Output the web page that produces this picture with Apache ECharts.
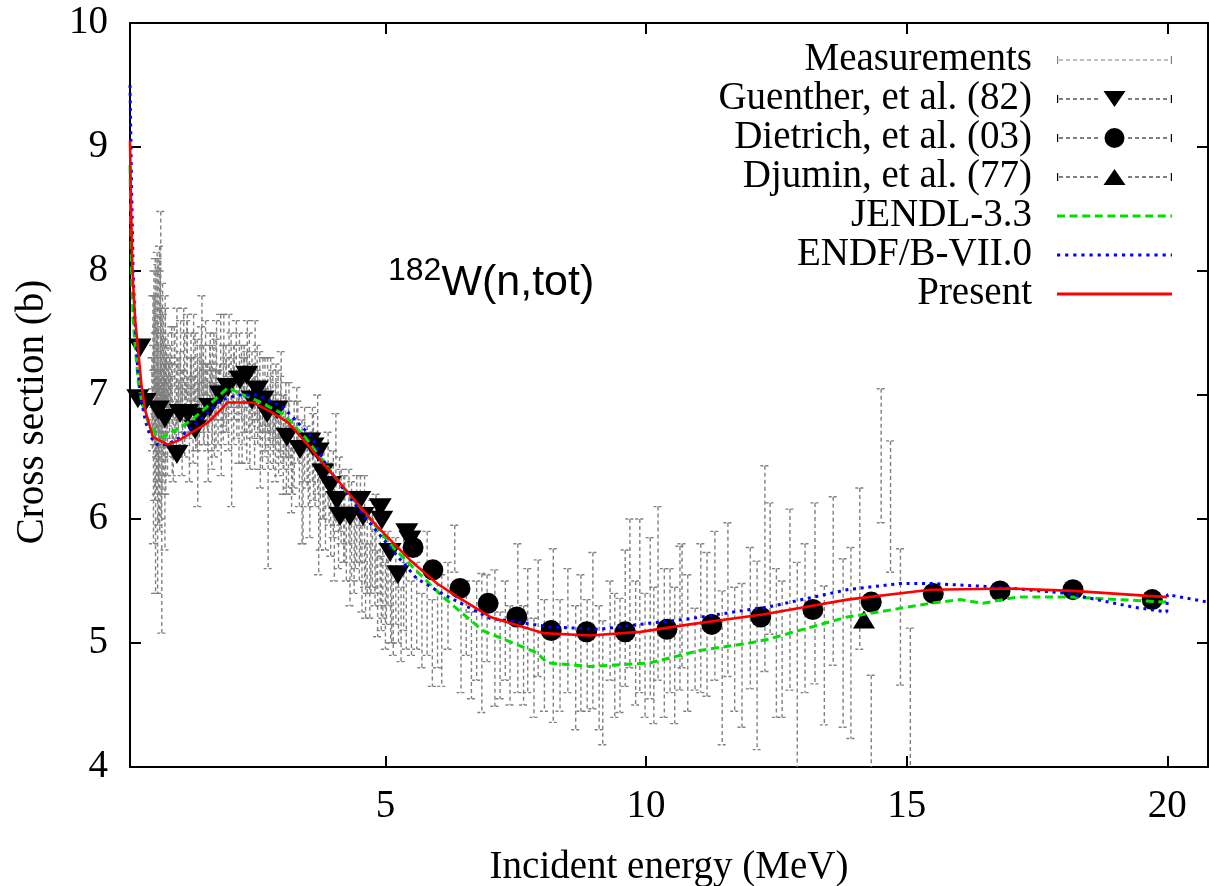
<!DOCTYPE html>
<html><head><meta charset="utf-8">
<script src="https://cdn.jsdelivr.net/npm/echarts@6/dist/echarts.min.js"></script>
<style>html,body{margin:0;padding:0;background:#fff}#c{width:1209px;height:886px}</style>
</head><body><div id="c"></div><script>
// ---------- axis ticks ----------
const xTicks = [5, 10, 15, 20];
const yTicks = [4, 5, 6, 7, 8, 9, 10];

// ---------- Measurements (energy, value, half error) ----------
const measE = [
 0.52,0.54,0.55,0.56,0.57,0.58,0.59,0.60,0.61,0.62,0.62,0.63,0.64,0.65,0.66,0.67,0.68,0.69,0.70,0.71,0.72,0.73,0.74,0.75,0.76,0.77,0.78,0.79,0.80,0.82,0.84,
 0.53,0.555,0.565,0.575,0.585,0.595,0.605,0.615,0.625,0.635,0.645,0.655,0.665,0.675,0.685,0.695,0.705,0.715,0.725,0.735,0.745,0.755,0.765,0.775,0.785,0.795,0.81,0.83,
 0.86,0.90,0.93,0.96,1.00,1.03,1.06,1.10,1.13,1.16,1.20,1.24,1.28,1.32,1.36,1.40,1.44,1.48,1.52,1.56,1.60,1.64,1.68,1.72,1.76,1.80,1.85,1.90,1.95,2.00,
 2.05,2.10,2.15,2.20,2.25,2.30,2.35,2.40,2.45,2.50,2.55,2.60,2.65,2.70,2.75,2.80,2.85,2.90,2.95,3.00,3.05,3.10,3.15,3.20,
 0.88,0.98,1.08,1.18,1.26,1.34,1.42,1.50,1.58,1.66,1.74,1.82,1.88,1.98,2.08,2.18,2.28,2.38,2.48,2.58,2.68,2.78,2.88,2.98,3.08,3.18,
 0.87,0.91,0.95,0.99,1.02,1.07,1.11,1.15,1.19,1.23,1.27,1.31,1.35,1.39,1.43,1.47,1.51,1.55,1.59,1.63,1.67,1.71,1.75,1.79,1.84,1.89,
 1.94,1.99,2.04,2.09,2.14,2.19,2.24,2.29,2.34,2.39,2.44,2.49,2.54,2.59,2.64,2.69,2.74,2.79,2.84,2.89,2.94,2.99,3.04,3.09,3.14,
 3.25,3.30,3.35,3.40,3.45,3.50,3.55,3.60,3.65,3.70,3.75,3.80,3.85,3.90,3.95,4.00,4.05,4.10,4.15,4.20,4.25,4.30,4.35,4.40,4.45,4.50,
 4.55,4.60,4.65,4.70,4.75,4.80,4.85,4.90,4.95,5.00,5.05,5.10,5.15,5.20,5.25,5.30,5.35,5.40,5.50,
 3.22,3.32,3.42,3.52,3.62,3.72,3.82,3.92,4.02,4.12,4.22,4.32,4.42,4.52,4.62,4.72,4.82,4.92,5.02,5.12,
 5.60,5.70,5.80,5.90,6.00,6.08,6.20,6.33,6.45,6.55,6.65,6.75,6.85,6.95,7.10,7.20,7.30,7.39,7.54,7.65,7.73,7.85,7.93,8.05,8.22,
 8.35,8.50,8.65,8.75,8.87,8.98,9.10,9.17,9.31,9.40,9.50,9.60,9.69,9.80,9.88,9.98,10.08,10.15,10.23,10.35,10.46,10.55,10.65,
 10.69,10.80,10.94,11.05,11.17,11.32,11.46,11.57,11.70,11.84,12.00,12.13,12.28,12.38,12.50,12.61,12.76,12.90,13.05,13.24,13.42,
 13.59,13.78,13.93,14.10,14.32,14.51,14.69,14.88,15.07
];
const measS = [
 7.0,7.3,6.6,7.6,6.9,7.2,6.3,7.5,6.8,7.1,7.6,6.0,7.4,6.7,7.0,6.4,7.6,7.7,6.9,6.0,7.2,6.6,7.3,6.8,7.0,6.2,7.4,6.9,7.1,6.7,7.0,
 6.8,7.1,7.5,6.5,7.8,7.0,6.6,7.3,6.9,7.7,6.4,7.2,7.9,6.8,7.1,6.5,7.4,6.9,7.6,7.0,6.7,7.2,6.9,7.5,6.6,7.1,6.9,7.2,
 6.9,7.2,6.6,7.0,7.3,6.8,7.1,6.7,7.4,6.9,7.2,6.6,7.0,7.3,6.8,6.7,7.1,7.4,6.9,7.0,6.6,7.2,7.0,6.8,7.3,7.0,6.7,7.2,7.0,7.4,
 6.6,7.1,6.9,7.2,6.8,7.0,7.3,6.7,7.0,7.2,6.9,6.6,7.0,6.8,6.3,7.0,6.7,6.9,6.6,7.0,6.7,6.5,6.8,6.4,
 7.0,6.8,7.0,6.9,7.1,7.0,6.9,7.1,6.9,7.1,7.0,7.1,6.9,7.0,7.1,7.0,7.1,6.9,7.0,6.9,6.9,6.8,6.8,6.7,6.7,6.6,
 7.1,6.8,7.3,6.9,7.0,7.2,6.9,7.0,7.3,6.9,7.1,6.8,7.2,7.0,6.9,7.2,7.0,7.3,6.9,7.1,6.8,7.2,7.0,6.9,7.3,7.0,
 7.1,6.9,7.2,7.0,7.3,6.8,7.1,7.0,6.9,7.2,7.0,6.8,7.1,7.0,6.7,6.9,7.0,6.8,6.9,6.7,6.9,6.8,6.6,6.8,6.6,
 6.6,6.8,6.4,6.3,6.6,6.5,6.2,6.6,6.4,6.6,6.2,6.3,6.1,6.4,6.0,6.2,6.4,5.9,6.1,6.0,5.8,6.1,5.9,5.7,6.0,5.8,
 5.6,5.9,5.7,5.5,5.8,5.6,5.4,5.7,5.5,5.3,5.6,5.4,5.2,5.5,5.3,5.15,5.5,5.3,5.2,
 6.5,6.7,6.2,6.4,6.5,6.0,6.3,6.2,5.9,6.2,6.0,5.7,5.9,6.0,5.5,5.7,5.8,5.4,5.5,5.3,
 5.3,5.1,5.4,5.0,5.2,5.1,5.3,5.76,5.0,5.2,4.9,5.1,5.0,5.2,5.04,4.9,5.1,4.9,5.2,4.9,5.1,4.8,5.2,4.9,5.06,
 4.9,5.1,4.8,5.0,4.9,5.1,4.8,4.68,5.1,4.9,4.9,5.2,5.4,5.0,5.3,4.9,5.2,4.9,5.4,5.0,5.1,4.9,5.2,
 5.3,5.0,4.95,5.2,5.15,5.3,4.8,5.35,4.95,4.9,5.2,4.9,5.6,5.6,5.0,4.95,5.35,4.8,5.2,5.4,4.9,
 5.5,5.0,5.0,5.6,4.2,6.51,6.1,5.21,4.55
];
const measD = [
 0.3,0.5,0.8,0.4,0.3,0.6,0.9,0.5,0.3,0.4,0.55,0.6,0.7,0.4,0.2,0.5,0.4,0.78,0.3,0.92,0.3,0.4,0.35,0.3,0.25,0.45,0.3,0.2,0.3,0.35,0.25,
 0.25,0.2,0.3,0.35,0.3,0.15,0.4,0.25,0.2,0.35,0.45,0.2,0.3,0.25,0.15,0.5,0.3,0.2,0.3,0.15,0.35,0.25,0.2,0.3,0.4,0.2,0.25,0.3,
 0.4,0.35,0.3,0.5,0.4,0.3,0.25,0.35,0.3,0.2,0.45,0.3,0.3,0.35,0.25,0.6,0.3,0.4,0.3,0.25,0.3,0.3,0.4,0.3,0.3,0.2,0.35,0.45,0.3,0.25,
 0.5,0.3,0.25,0.3,0.35,0.3,0.3,0.3,0.25,0.4,0.3,0.35,0.3,0.25,0.7,0.3,0.3,0.35,0.25,0.35,0.3,0.3,0.3,0.35,
 0.15,0.15,0.2,0.15,0.2,0.15,0.2,0.15,0.2,0.15,0.2,0.15,0.2,0.15,0.2,0.15,0.2,0.2,0.15,0.2,0.15,0.2,0.15,0.2,0.15,0.2,
 0.3,0.45,0.25,0.35,0.3,0.4,0.3,0.5,0.3,0.25,0.4,0.35,0.3,0.45,0.3,0.35,0.4,0.3,0.35,0.3,0.4,0.3,0.45,0.3,0.35,0.4,
 0.3,0.35,0.3,0.4,0.3,0.35,0.3,0.4,0.45,0.3,0.35,0.4,0.3,0.35,0.3,0.4,0.3,0.35,0.3,0.4,0.3,0.35,0.4,0.3,0.35,
 0.35,0.26,0.3,0.5,0.3,0.25,0.35,0.3,0.3,0.4,0.45,0.3,0.35,0.3,0.3,0.35,0.45,0.3,0.3,0.35,0.3,0.3,0.4,0.3,0.35,0.3,
 0.35,0.45,0.3,0.3,0.35,0.3,0.35,0.4,0.3,0.35,0.3,0.4,0.3,0.35,0.3,0.3,0.4,0.35,0.3,
 0.3,0.25,0.4,0.3,0.35,0.45,0.3,0.25,0.4,0.3,0.35,0.4,0.3,0.35,0.3,0.3,0.4,0.3,0.35,0.3,
 0.35,0.3,0.5,0.35,0.4,0.45,0.35,0.19,0.4,0.3,0.35,0.4,0.56,0.35,0.55,0.35,0.4,0.4,0.6,0.4,0.5,0.4,0.47,0.45,0.7,
 0.45,0.5,0.5,0.55,0.45,0.63,0.5,0.5,0.4,0.5,0.46,0.55,0.6,0.5,0.7,0.5,0.65,0.55,0.7,0.6,0.5,0.55,0.58,
 0.5,0.55,0.33,0.6,0.58,0.6,0.62,0.62,0.5,0.58,0.57,0.76,0.83,0.53,0.6,0.55,0.73,0.85,0.6,0.73,0.56,
 0.68,0.68,0.77,0.65,0.54,0.54,0.53,0.55,0.57
];

// ---------- Guenther, et al. (82) ----------
const guenE = [0.29,0.25,0.39,0.64,0.77,1.0,1.06,1.21,1.35,1.44,1.63,1.83,1.98,2.21,2.34,2.44,2.54,2.65,2.73,2.92,3.11,3.36,3.55,3.61,
 3.71,3.8,3.94,4.07,4.13,4.32,4.51,4.57,4.9,4.93,5.09,5.24,5.41,5.47];
const guenS = [7.38,6.97,6.94,6.88,6.81,6.52,6.85,6.85,6.72,6.82,6.9,7.0,7.06,7.12,7.16,6.96,7.04,6.96,6.85,6.88,6.66,6.56,6.62,6.58,
 6.54,6.37,6.27,6.15,6.02,6.02,6.15,6.02,6.09,5.99,5.73,5.55,5.89,5.83];

// ---------- Dietrich, et al. (03) ----------
const dietE = [5.53,5.91,6.43,6.97,7.52,8.18,8.86,9.6,10.4,11.26,12.2,13.2,14.32,15.51,16.79,18.19,19.71];
const dietS = [5.77,5.59,5.44,5.32,5.21,5.1,5.09,5.09,5.11,5.15,5.21,5.27,5.33,5.4,5.42,5.43,5.35];

// ---------- Djumin, et al. (77) ----------
const djumE = [14.18];
const djumS = [5.19];

// ---------- JENDL-3.3 ----------
const jendlE = [0.1,0.13,0.16,0.2,0.26,0.33,0.45,0.6,0.71,0.83,1.29,1.67,1.98,2.17,2.56,3.02,3.46,4.32,4.51,5.15,6.08,6.87,7.91,8.1,8.93,10.08,11.03,11.99,12.34,13.86,14.17,15.45,16.02,16.46,17.11,18.19,19.99];
const jendlS = [8.85,8.0,7.6,7.39,7.1,6.94,6.78,6.68,6.66,6.68,6.8,6.94,7.06,7.02,6.95,6.85,6.66,6.18,6.1,5.77,5.38,5.1,4.92,4.84,4.81,4.84,4.94,5.0,5.03,5.21,5.23,5.32,5.35,5.32,5.37,5.37,5.33];

// ---------- ENDF/B-VII.0 ----------
const endfE = [0.1,0.13,0.16,0.2,0.25,0.32,0.4,0.5,0.62,0.8,1.0,1.29,1.6,1.85,2.17,2.56,3.04,3.59,3.88,4.5,5.15,5.6,6.08,7.0,8.16,9.1,10.07,10.75,11.99,12.34,13.86,14.87,15.45,16.79,18.07,19.34,19.99,20.0,20.78];
const endfS = [9.5,8.7,8.0,7.55,7.2,6.95,6.78,6.66,6.6,6.6,6.64,6.74,6.86,6.96,7.0,7.0,6.9,6.66,6.42,6.07,5.74,5.52,5.4,5.2,5.13,5.11,5.16,5.19,5.27,5.29,5.43,5.48,5.48,5.45,5.4,5.29,5.25,5.39,5.33];

// ---------- Present ----------
const presE = [0.1,0.12,0.14,0.16,0.2,0.25,0.32,0.39,0.54,0.83,1.06,1.6,1.98,2.46,2.82,3.13,3.55,3.8,4.19,4.84,5.47,5.99,6.43,7.01,8.02,8.92,9.89,10.84,12.24,13.86,15.45,16.98,18.19,19.99];
const presS = [9.05,8.5,8.1,7.9,7.6,7.39,7.08,6.88,6.66,6.6,6.64,6.78,6.94,6.94,6.86,6.78,6.58,6.45,6.26,5.94,5.67,5.48,5.36,5.21,5.08,5.06,5.09,5.15,5.23,5.35,5.43,5.44,5.42,5.37];

const names = ['Measurements','Guenther, et al. (82)','Dietrich, et al. (03)','Djumin, et al. (77)','JENDL-3.3','ENDF/B-VII.0','Present'];

// ---------- helpers (style only) ----------
const SERIF = "'Liberation Serif','Times New Roman',serif";
const SANS = "'Liberation Sans',Arial,sans-serif";
const FS = 39;
const zip = (a, b) => a.map((v, i) => [v, b[i]]);
const W = 115, H = 22, CY = 11;
function rect(x, y, w, h) { return `M${x},${y}L${x+w},${y}L${x+w},${y+h}L${x},${y+h}Z`; }
function dashes(dash, gap, t, from, to) {
  let p = '';
  for (let x = from; x < to; x += dash + gap) p += rect(x, CY - t/2, Math.min(dash, to - x), t);
  return p;
}
function capped(marker) {
  let p = rect(0, CY-4, 1.2, 8) + rect(W-1.2, CY-4, 1.2, 8);
  if (marker) {
    p += dashes(4, 3, 1, 2, 44) + dashes(4, 3, 1, 71, W - 2) + marker;
  } else {
    p += dashes(4, 3, 1, 2, W - 2);
  }
  return 'path://' + p;
}
const cx = W/2;
const triDown = `M${cx-11},${CY-8}L${cx+11},${CY-8}L${cx},${CY+8}Z`;
const triUp = `M${cx-11},${CY+8}L${cx+11},${CY+8}L${cx},${CY-8}Z`;
const circ = `M${cx-10},${CY}A10,10,0,1,0,${cx+10},${CY}A10,10,0,1,0,${cx-10},${CY}Z`;
const icons = [
  capped(null), capped(triDown), capped(circ), capped(triUp),
  'path://' + dashes(8, 4.6, 3, 0, W),
  'path://' + dashes(3, 4.7, 3, 0, W - 6),
  'path://' + rect(0, CY-1.5, W, 3)
];

const chart = echarts.init(document.getElementById('c'), null, {renderer: 'canvas'});
const axisLineStyle = {color: '#000', width: 2};
const X0 = 0.1, X1 = 20.78;
const option = {
  animation: false,
  backgroundColor: '#fff',
  grid: {left: 130, top: 23, width: 1078, height: 744, containLabel: false, outerBoundsMode: 'none'},
  title: {
    text: '{sup|182}{main|W(n,tot)}',
    left: 383, top: 250,
    textStyle: {fontWeight: 'normal', rich: {
      sup: {fontFamily: SANS, fontSize: 32, fontWeight: 'normal', color: '#000', verticalAlign: 'top', lineHeight: 30},
      main: {fontFamily: SANS, fontSize: 43, fontWeight: 'normal', color: '#000', verticalAlign: 'bottom', lineHeight: 50}
    }}
  },
  legend: {
    orient: 'vertical', align: 'right', right: 37, top: 40.5, padding: 0,
    itemWidth: W, itemHeight: H, itemGap: 0, selectedMode: false,
    textStyle: {fontFamily: SERIF, fontSize: FS, color: '#000', lineHeight: 39, padding: [0, 20, 0, 0]},
    data: names.map((n, i) => ({name: n, icon: icons[i], itemStyle: {borderWidth: 0}}))
  },
  xAxis: [{
    type: 'value', min: X0, max: X1, position: 'bottom',
    axisLine: {show: true, onZero: false, lineStyle: axisLineStyle},
    axisTick: {show: true, inside: true, length: 11, lineStyle: axisLineStyle, customValues: xTicks},
    axisLabel: {customValues: xTicks, fontFamily: SERIF, fontSize: FS, color: '#000', margin: 20},
    splitLine: {show: false},
    name: 'Incident energy (MeV)', nameLocation: 'middle', nameGap: 81,
    nameTextStyle: {fontFamily: SERIF, fontSize: FS, color: '#000'}
  }, {
    type: 'value', min: X0, max: X1, position: 'top',
    axisLine: {show: true, onZero: false, lineStyle: axisLineStyle},
    axisTick: {show: true, inside: true, length: 11, lineStyle: axisLineStyle, customValues: xTicks},
    axisLabel: {show: false}, splitLine: {show: false}
  }],
  yAxis: [{
    type: 'value', min: 4, max: 10, interval: 1, position: 'left',
    axisLine: {show: true, onZero: false, lineStyle: axisLineStyle},
    axisTick: {show: true, inside: true, length: 11, lineStyle: axisLineStyle, customValues: yTicks},
    axisLabel: {customValues: yTicks, fontFamily: SERIF, fontSize: FS, color: '#000', margin: 22},
    splitLine: {show: false},
    name: 'Cross section (b)', nameLocation: 'middle', nameGap: 78, nameRotate: 90,
    nameTextStyle: {fontFamily: SERIF, fontSize: FS, color: '#000', padding: [0, 34, 0, 0]}
  }, {
    type: 'value', min: 4, max: 10, interval: 1, position: 'right',
    axisLine: {show: true, onZero: false, lineStyle: axisLineStyle},
    axisTick: {show: true, inside: true, length: 11, lineStyle: axisLineStyle, customValues: yTicks},
    axisLabel: {show: false}, splitLine: {show: false}
  }],
  series: [
    {
      name: names[0], type: 'custom', clip: true, z: 1,
      itemStyle: {color: '#808080'},
      data: measE.map((e, i) => [e, measS[i], measD[i]]),
      encode: {x: 0, y: 1},
      renderItem: function (params, api) {
        const x = api.value(0), y = api.value(1), d = api.value(2);
        const top = api.coord([x, y + d]);
        const bot = api.coord([x, y - d]);
        const c = 4.5;
        const st = {stroke: '#808080', lineWidth: 1.4, lineDash: [4, 3], fill: null};
        const cs = {stroke: '#808080', lineWidth: 1.4, lineDash: [3, 2], fill: null};
        return {type: 'group', children: [
          {type: 'line', shape: {x1: top[0], y1: top[1], x2: bot[0], y2: bot[1]}, style: st},
          {type: 'line', shape: {x1: top[0] - c, y1: top[1], x2: top[0] + c, y2: top[1]}, style: cs},
          {type: 'line', shape: {x1: bot[0] - c, y1: bot[1], x2: bot[0] + c, y2: bot[1]}, style: cs}
        ]};
      }
    },
    {name: names[1], type: 'scatter', z: 3, symbol: 'triangle', symbolRotate: 180, symbolSize: [23, 19],
     itemStyle: {color: '#000', opacity: 1}, data: zip(guenE, guenS)},
    {name: names[2], type: 'scatter', z: 3, symbol: 'circle', symbolSize: 21,
     itemStyle: {color: '#000', opacity: 1}, data: zip(dietE, dietS)},
    {name: names[3], type: 'scatter', z: 3, symbol: 'triangle', symbolSize: [22, 18],
     itemStyle: {color: '#000', opacity: 1}, data: zip(djumE, djumS)},
    {name: names[4], type: 'line', z: 4, showSymbol: false, symbol: 'none',
     itemStyle: {color: '#00e000'}, lineStyle: {color: '#00e000', width: 3, type: [8, 4.6]}, data: zip(jendlE, jendlS)},
    {name: names[5], type: 'line', z: 5, showSymbol: false, symbol: 'none',
     itemStyle: {color: '#0000ff'}, lineStyle: {color: '#0000ff', width: 3, type: [3, 4.7]}, data: zip(endfE, endfS)},
    {name: names[6], type: 'line', z: 6, showSymbol: false, symbol: 'none',
     itemStyle: {color: '#ff0000'}, lineStyle: {color: '#ff0000', width: 2.6}, data: zip(presE, presS)}
  ]
};
chart.setOption(option);
</script></body></html>
